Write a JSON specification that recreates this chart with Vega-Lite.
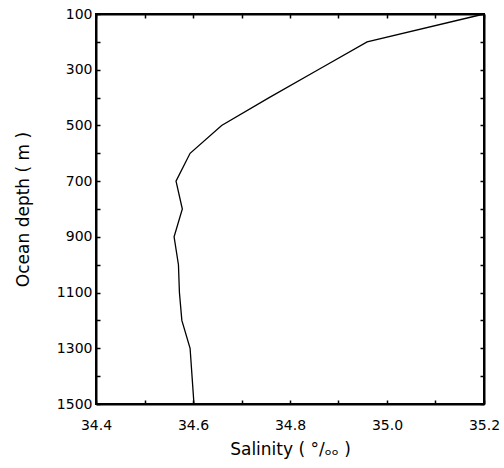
{
  "$schema": "https://vega.github.io/schema/vega-lite/v6.json",
  "autosize": {"type": "none"},
  "padding": {"left": 96, "top": 14, "right": 20, "bottom": 64},
  "width": 388,
  "height": 390,
  "background": "white",
  "config": {
    "font": "DejaVu Sans",
    "view": {"stroke": "black", "strokeWidth": 2},
    "axis": {
      "domainColor": "black",
      "domainWidth": 2,
      "tickColor": "black",
      "tickWidth": 1.5,
      "tickSize": -4,
      "grid": false,
      "labelColor": "black",
      "titleColor": "black",
      "labelFont": "DejaVu Sans",
      "titleFont": "DejaVu Sans",
      "labelFontSize": 14,
      "titleFontSize": 17,
      "titleFontWeight": "normal"
    }
  },
  "data": {
    "values": [
      {"depth": 100, "salinity": 35.2},
      {"depth": 200, "salinity": 34.959},
      {"depth": 300, "salinity": 34.858},
      {"depth": 400, "salinity": 34.757},
      {"depth": 500, "salinity": 34.659},
      {"depth": 600, "salinity": 34.594},
      {"depth": 700, "salinity": 34.565},
      {"depth": 800, "salinity": 34.578},
      {"depth": 900, "salinity": 34.561},
      {"depth": 1000, "salinity": 34.57},
      {"depth": 1100, "salinity": 34.572},
      {"depth": 1200, "salinity": 34.577},
      {"depth": 1300, "salinity": 34.594},
      {"depth": 1400, "salinity": 34.598},
      {"depth": 1500, "salinity": 34.602}
    ]
  },
  "layer": [
    {
      "mark": {"type": "line", "color": "black", "strokeWidth": 1.3},
      "encoding": {
        "x": {
          "field": "salinity", "type": "quantitative",
          "scale": {"domain": [34.4, 35.2], "nice": false, "zero": false},
          "axis": {
            "orient": "bottom",
            "title": "Salinity  ( °/ₒₒ )",
            "values": [34.4, 34.5, 34.6, 34.7, 34.8, 34.9, 35.0, 35.1, 35.2],
            "labelExpr": "round(datum.value*10) % 2 == 0 ? format(datum.value, '.1f') : ''",
            "labelPadding": 18,
            "titlePadding": 9,
            "labelFlush": false
          }
        },
        "y": {
          "field": "depth", "type": "quantitative",
          "scale": {"domain": [100, 1500], "reverse": true, "nice": false, "zero": false},
          "axis": {
            "orient": "left",
            "title": "Ocean depth ( m )",
            "values": [100, 200, 300, 400, 500, 600, 700, 800, 900, 1000, 1100, 1200, 1300, 1400, 1500],
            "labelExpr": "datum.value % 200 == 100 ? datum.value : ''",
            "labelPadding": 8,
            "titlePadding": 24,
            "labelFlush": false
          }
        },
        "order": {"field": "depth", "type": "quantitative"}
      }
    },
    {
      "mark": {"type": "point", "opacity": 0},
      "encoding": {
        "x": {
          "field": "salinity", "type": "quantitative",
          "scale": {"domain": [34.4, 35.2], "nice": false, "zero": false},
          "axis": {
            "orient": "top", "title": null, "labels": false,
            "values": [34.4, 34.5, 34.6, 34.7, 34.8, 34.9, 35.0, 35.1, 35.2]
          }
        },
        "y": {
          "field": "depth", "type": "quantitative",
          "scale": {"domain": [100, 1500], "reverse": true, "nice": false, "zero": false},
          "axis": {
            "orient": "right", "title": null, "labels": false,
            "values": [100, 200, 300, 400, 500, 600, 700, 800, 900, 1000, 1100, 1200, 1300, 1400, 1500]
          }
        }
      }
    }
  ],
  "resolve": {"axis": {"x": "independent", "y": "independent"}}
}
